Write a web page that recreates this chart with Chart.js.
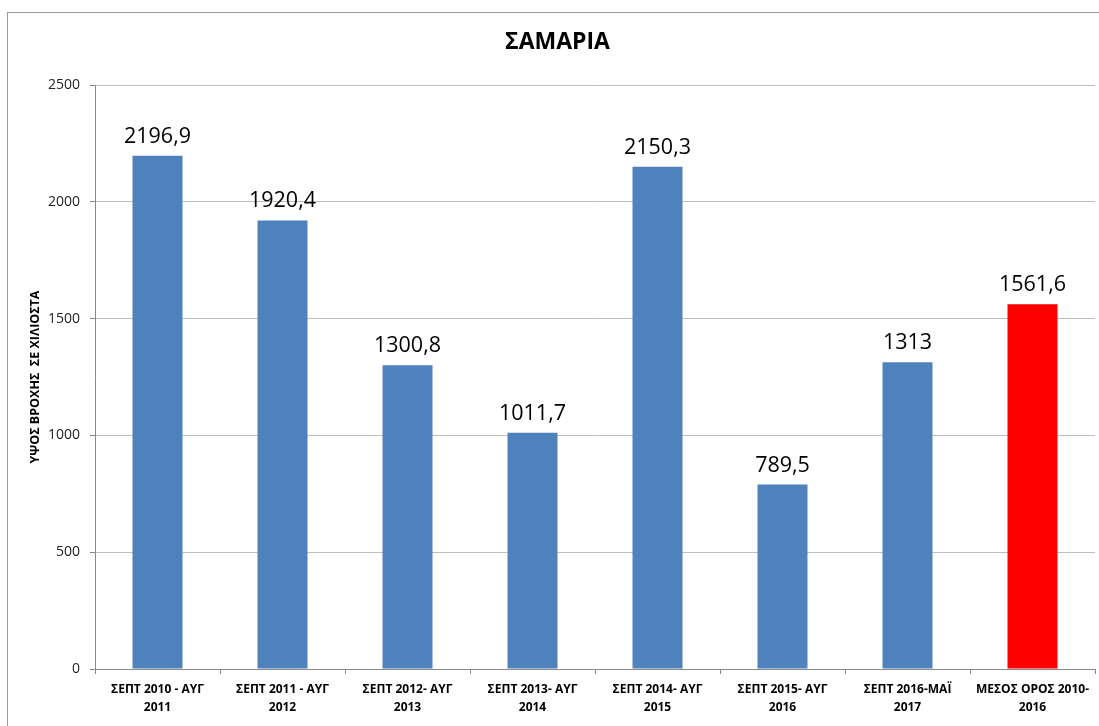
<!DOCTYPE html>
<html>
<head>
<meta charset="utf-8">
<title>ΣΑΜΑΡΙΑ</title>
<script src="https://cdn.jsdelivr.net/npm/chart.js@4.4.0/dist/chart.umd.min.js"></script>
<style>
    html, body {
        margin: 0;
        padding: 0;
        background: #ffffff;
        overflow: hidden;
    }
    #wrap {
        position: relative;
        width: 1099px;
        height: 726px;
    }
</style>
</head>
<body>
<div id="wrap">
    <canvas id="rain-chart" width="1099" height="726"></canvas>
</div>
<script>
// Chart data
const periods = [
    ['ΣΕΠΤ 2010 - ΑΥΓ', '2011'],
    ['ΣΕΠΤ 2011 - ΑΥΓ', '2012'],
    ['ΣΕΠΤ 2012- ΑΥΓ', '2013'],
    ['ΣΕΠΤ 2013- ΑΥΓ', '2014'],
    ['ΣΕΠΤ 2014- ΑΥΓ', '2015'],
    ['ΣΕΠΤ 2015- ΑΥΓ', '2016'],
    ['ΣΕΠΤ 2016-ΜΑΪ', '2017'],
    ['ΜΕΣΟΣ ΟΡΟΣ 2010-', '2016']
];
const rainfall = [2196.9, 1920.4, 1300.8, 1011.7, 2150.3, 789.5, 1313, 1561.6];
const barColors = ['#4f81bd', '#4f81bd', '#4f81bd', '#4f81bd', '#4f81bd', '#4f81bd', '#4f81bd', '#ff0000'];
const yTicks = [0, 500, 1000, 1500, 2000, 2500];

const chartTitle = 'ΣΑΜΑΡΙΑ';
const yAxisTitle = 'ΥΨΟΣ ΒΡΟΧΗΣ  ΣΕ ΧΙΛΙΟΣΤΑ';

const FONT = "'Open Sans', 'Noto Sans', sans-serif";

// outer frame of the chart object (runs off the right/bottom edge)
const framePlugin = {
    id: 'frame',
    beforeDraw: (chart) => {
        const ctx = chart.ctx;
        ctx.save();
        ctx.strokeStyle = '#9a9a9a';
        ctx.lineWidth = 1;
        ctx.strokeRect(7.5, 12.5, 1200, 1000);
        ctx.restore();
    }
};

// value labels above the bars, decimal comma
const valueLabels = {
    id: 'valueLabels',
    afterDatasetsDraw: (chart) => {
        const ctx = chart.ctx;
        const meta = chart.getDatasetMeta(0);
        ctx.save();
        ctx.font = '21.5px ' + FONT;
        ctx.fillStyle = '#000000';
        ctx.textAlign = 'center';
        ctx.textBaseline = 'alphabetic';
        meta.data.forEach((bar, i) => {
            const text = String(rainfall[i]).replace('.', ',');
            ctx.fillText(text, bar.x, bar.y - 13);
        });
        ctx.restore();
    }
};

new Chart(document.getElementById('rain-chart'), {
    type: 'bar',
    data: {
        labels: periods,
        datasets: [{
            data: rainfall,
            backgroundColor: barColors,
            borderWidth: 0,
            barPercentage: 0.4,
            categoryPercentage: 1.0
        }]
    },
    options: {
        responsive: false,
        animation: false,
        devicePixelRatio: 1,
        layout: {
            padding: { left: 20, right: 4, top: 0, bottom: 0 }
        },
        plugins: {
            legend: { display: false },
            tooltip: { enabled: false },
            title: {
                display: true,
                text: chartTitle,
                color: '#000000',
                font: { family: FONT, size: 23, weight: 'bold', lineHeight: 1.2 },
                padding: { top: 29, bottom: 28.4 }
            }
        },
        scales: {
            x: {
                grid: {
                    display: true,
                    drawOnChartArea: false,
                    drawTicks: true,
                    tickLength: 5,
                    color: '#888888',
                    offset: true
                },
                border: { color: '#888888', width: 1 },
                ticks: {
                    color: '#000000',
                    padding: 7,
                    maxRotation: 0,
                    autoSkip: false,
                    font: { family: FONT, size: 12, weight: 'bold', lineHeight: 1.5 }
                },
                afterFit: (scale) => {
                    scale.height = 57;
                }
            },
            y: {
                min: 0,
                max: 2500,
                afterBuildTicks: (scale) => {
                    scale.ticks = yTicks.map(v => ({ value: v }));
                },
                grid: {
                    color: '#bdbdbd',
                    tickColor: '#888888',
                    tickLength: 5
                },
                border: { color: '#888888', width: 1 },
                ticks: {
                    color: '#222222',
                    padding: 10,
                    font: { family: FONT, size: 14 },
                    callback: (value) => String(value)
                },
                title: {
                    display: true,
                    text: yAxisTitle,
                    color: '#000000',
                    font: { family: FONT, size: 12.5, weight: 'bold' },
                    padding: { top: 8, bottom: 0 }
                },
                afterFit: (scale) => {
                    scale.width = 75;
                }
            }
        }
    },
    plugins: [framePlugin, valueLabels]
});
</script>
</body>
</html>
